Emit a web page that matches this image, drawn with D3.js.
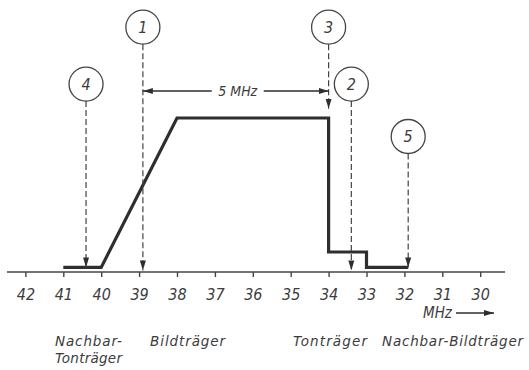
<!DOCTYPE html>
<html>
<head>
<meta charset="utf-8">
<script src="https://cdn.jsdelivr.net/npm/d3@7"></script>
<style>
  html, body { margin: 0; padding: 0; background: #fff; }
  svg { display: block; }
  text { font-family: "DejaVu Sans Condensed", "DejaVu Sans", sans-serif; font-style: italic; fill: #3c3c3c; }
  text.name { font-family: "DejaVu Sans", sans-serif; }
</style>
</head>
<body>
<svg id="chart" width="529" height="370"></svg>
<script>
// Frequency axis ticks (MHz), drawn descending from left to right
const tickValues = [42, 41, 40, 39, 38, 37, 36, 35, 34, 33, 32, 31, 30];

// IF passband response: frequency (MHz) and relative level (%)
const curveFreq  = [41, 40, 38, 34, 34, 33, 33, 31.9];
const curveLevel = [3, 3, 100, 100, 13, 13, 3, 3];

// Numbered carrier markers
const markerIds    = ["1", "2", "3", "4", "5"];
const markerFreq   = [38.9, 33.4, 34, 40.4, 31.9];
const markerCircle = [159, 122, 159, 122, 88];   // level of the bubble centre
const markerTip    = [1, 1, 106, 3, 3];          // level where the arrow ends

// Carrier names under the axis
const labelText  = ["Nachbar-", "Tonträger", "Bildträger", "Tonträger", "Nachbar-Bildträger"];
const labelFreq  = [41.22, 41.22, 38.71, 34.94, 32.59];
const labelLine  = [0, 1, 0, 0, 0];
const labelWidth = [67, 67, 75, 74, 141];

const svg = d3.select("#chart");
const ink = "#2e2e2e";

const x = d3.scaleLinear().domain([42, 30]).range([25.4, 480.2]);
const y = d3.scaleLinear().domain([0, 100]).range([272, 118]);

// arrowhead marker
const defs = svg.append("defs");
defs.append("marker")
  .attr("id", "head")
  .attr("viewBox", "0 0 10 10")
  .attr("refX", 10).attr("refY", 5)
  .attr("markerWidth", 10).attr("markerHeight", 10)
  .attr("markerUnits", "userSpaceOnUse")
  .attr("orient", "auto")
  .append("path").attr("d", "M0,2 L10,5 L0,8 Z").attr("fill", ink);

// frequency axis
const axis = d3.axisBottom(x)
  .tickValues(tickValues)
  .tickSize(5)
  .tickPadding(12)
  .tickFormat(d3.format("d"));

const gAxis = svg.append("g")
  .attr("transform", `translate(0,${y(0)})`)
  .call(axis);
gAxis.select(".domain").remove();
gAxis.selectAll(".tick line").attr("stroke", "#444").attr("stroke-width", 1.4);
gAxis.selectAll(".tick text")
  .attr("fill", "#3c3c3c")
  .style("font-family", '"DejaVu Sans Condensed", "DejaVu Sans", sans-serif')
  .style("font-style", "italic")
  .style("font-size", "16px");

gAxis.append("line")
  .attr("x1", 7).attr("x2", 505)
  .attr("y1", 0).attr("y2", 0)
  .attr("stroke", "#444").attr("stroke-width", 1.6);

// passband curve
const curve = d3.line()
  .x(d => x(d[0]))
  .y(d => y(d[1]));
svg.append("path")
  .datum(curveFreq.map((f, i) => [f, curveLevel[i]]))
  .attr("d", curve)
  .attr("fill", "none")
  .attr("stroke", ink)
  .attr("stroke-width", 3.2)
  .attr("stroke-linejoin", "miter");

// numbered markers with dashed arrows
const r = 17;
markerIds.forEach((id, i) => {
  const cx = x(markerFreq[i]);
  const cy = y(markerCircle[i]);
  svg.append("circle")
    .attr("cx", cx).attr("cy", cy).attr("r", r)
    .attr("fill", "#fff").attr("stroke", "#444").attr("stroke-width", 1.3);
  svg.append("text")
    .attr("x", cx).attr("y", cy + 6)
    .attr("text-anchor", "middle")
    .style("font-size", "16px")
    .text(id);
  svg.append("line")
    .attr("x1", cx).attr("x2", cx)
    .attr("y1", cy + r).attr("y2", y(markerTip[i]))
    .attr("stroke", "#444").attr("stroke-width", 1.2)
    .attr("stroke-dasharray", "6,3")
    .attr("marker-end", "url(#head)");
});

// 5 MHz spacing between picture and sound carriers
const spanY = 91;
const xa = x(markerFreq[0]), xb = x(markerFreq[2]);
const mid = (xa + xb) / 2 + 2;
svg.append("line")
  .attr("x1", mid - 26).attr("x2", xa)
  .attr("y1", spanY).attr("y2", spanY)
  .attr("stroke", ink).attr("stroke-width", 1.3)
  .attr("marker-end", "url(#head)");
svg.append("line")
  .attr("x1", mid + 26).attr("x2", xb)
  .attr("y1", spanY).attr("y2", spanY)
  .attr("stroke", ink).attr("stroke-width", 1.3)
  .attr("marker-end", "url(#head)");
svg.append("text")
  .attr("x", mid).attr("y", spanY + 5)
  .attr("text-anchor", "middle")
  .style("font-size", "14px")
  .text("5 MHz");

// unit label with arrow
svg.append("text")
  .attr("x", 423).attr("y", 318)
  .style("font-size", "15px")
  .text("MHz");
svg.append("line")
  .attr("x1", 456).attr("x2", 494)
  .attr("y1", 313).attr("y2", 313)
  .attr("stroke", ink).attr("stroke-width", 1.4)
  .attr("marker-end", "url(#head)");

// carrier names
labelText.forEach((t, i) => {
  svg.append("text")
    .attr("class", "name")
    .attr("x", x(labelFreq[i]))
    .attr("y", 346 + labelLine[i] * 17)
    .attr("textLength", labelWidth[i])
    .attr("lengthAdjust", "spacing")
    .style("font-size", "13.5px")
    .text(t);
});
</script>
</body>
</html>
